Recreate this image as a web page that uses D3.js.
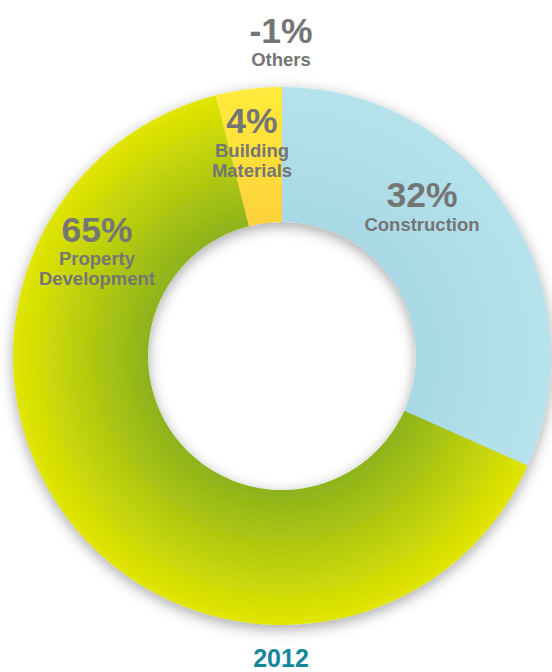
<!DOCTYPE html>
<html><head><meta charset="utf-8">
<script src="https://cdn.jsdelivr.net/npm/d3@7"></script>
<style>html,body{margin:0;padding:0;background:#fff;}svg{display:block;}</style>
</head><body>
<script>
const categories = ["Construction", "Property Development", "Building Materials", "Others"];
const labelLines = [["Construction"], ["Property", "Development"], ["Building", "Materials"], ["Others"]];
const values = [32, 65, 4, -1];
const pctLabels = ["32%", "65%", "4%", "-1%"];
const yearLabel = "2012";

const W = 552, H = 672, cx = 282, cy = 356, R = 269, r = 134;
const svg = d3.select("body").append("svg").attr("width", W).attr("height", H);
const defs = svg.append("defs");

const grads = [
  {id: "gBlue", inner: "#a8d9e5", outer: "#b6e2ec"},
  {id: "gGreen", inner: "#8db31c", outer: "#e2e600"},
  {id: "gYellow", inner: "#fdd23a", outer: "#ffeb3a"}
];
grads.forEach(g => {
  const lg = defs.append("radialGradient").attr("id", g.id)
    .attr("gradientUnits", "userSpaceOnUse").attr("cx", 0).attr("cy", 0).attr("r", R);
  lg.append("stop").attr("offset", r / R).attr("stop-color", g.inner);
  lg.append("stop").attr("offset", 1).attr("stop-color", g.outer);
});
const f = defs.append("filter").attr("id", "sh").attr("x", "-20%").attr("y", "-20%").attr("width", "140%").attr("height", "140%");
f.append("feDropShadow").attr("dx", 0).attr("dy", 4).attr("stdDeviation", 7).attr("flood-color", "#000").attr("flood-opacity", 0.35);

const data = categories.map((c, i) => ({cat: c, value: values[i], i}));
const positive = data.filter(d => d.value > 0);
const pie = d3.pie().sort(null).value(d => d.value);
const arcs = pie(positive);
const arc = d3.arc().innerRadius(r).outerRadius(R);
const fills = {"Construction": "url(#gBlue)", "Property Development": "url(#gGreen)", "Building Materials": "url(#gYellow)"};

const g = svg.append("g").attr("transform", `translate(${cx},${cy})`);
g.append("g").attr("filter", "url(#sh)")
  .selectAll("path").data(arcs).join("path")
  .attr("d", arc).attr("fill", d => fills[d.data.cat]);

const labelPos = {
  "Construction": {x: 422, py: 207, ly: 231},
  "Property Development": {x: 97, py: 242, ly: 265},
  "Building Materials": {x: 252, py: 133, ly: 157},
  "Others": {x: 281, py: 43, ly: 66}
};
const font = "'Liberation Sans', Arial, Helvetica, sans-serif";
data.forEach(d => {
  const p = labelPos[d.cat];
  svg.append("text").attr("x", p.x).attr("y", p.py).attr("text-anchor", "middle")
    .attr("font-family", font).attr("font-weight", "bold").attr("font-size", 35.5)
    .attr("fill", "#757575").text(pctLabels[d.i]);
  labelLines[d.i].forEach((t, k) => {
    svg.append("text").attr("x", p.x).attr("y", p.ly + k * 19.5).attr("text-anchor", "middle")
      .attr("font-family", font).attr("font-weight", "bold").attr("font-size", 18.5)
      .attr("fill", "#757575").text(t);
  });
});

svg.append("text").attr("x", 281).attr("y", 667).attr("text-anchor", "middle")
  .attr("font-family", font).attr("font-weight", "bold").attr("font-size", 25)
  .attr("fill", "#16879a").text(yearLabel);
</script>
</body></html>
